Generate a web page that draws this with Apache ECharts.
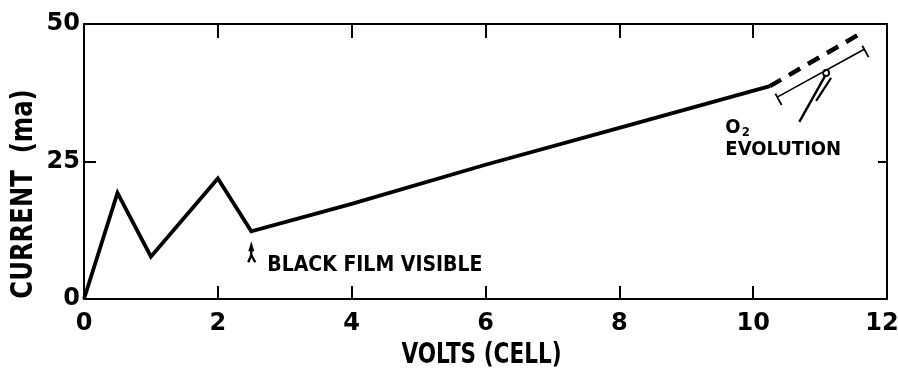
<!DOCTYPE html>
<html>
<head>
<meta charset="utf-8">
<script src="https://cdn.jsdelivr.net/npm/echarts@6/dist/echarts.min.js"></script>
<style>
html,body{margin:0;padding:0;background:#fff;}
#c{width:898px;height:370px;}
</style>
</head>
<body>
<div id="c"></div>
<script>
// ---- data (volts, current mA) ----
const volts = [0, 0.5, 1.0, 2.0, 2.5, 4.0, 6.0, 8.0, 10.25];
const current = [0, 19.3, 7.7, 21.9, 12.3, 17.3, 24.4, 31.1, 38.7];
const dashVolts = [10.25, 11.65];
const dashCurrent = [38.7, 48.6];
// O2 evolution range bar and marker
const o2BarVolts = [10.36, 11.66];
const o2BarCurrent = [36.7, 45.4];
const o2Marker = [11.09, 41.1];
const o2LeaderEnd = [10.69, 32.2];
// annotation anchors
const blackFilmArrow = [2.5, 10.5];
const xTicks = [0, 2, 4, 6, 8, 10, 12];
const yTicks = [0, 25, 50];
const xTitle = 'VOLTS (CELL)';
const yTitle = 'CURRENT  (ma)';
const blackFilmText = 'BLACK FILM VISIBLE';

const zip = (a, b) => a.map((v, i) => [v, b[i]]);
const numFont = "'DejaVu Sans', sans-serif";
const condFont = "'DejaVu Sans Condensed', 'Liberation Sans Narrow', 'DejaVu Sans', sans-serif";

const chart = echarts.init(document.getElementById('c'), null, {renderer: 'canvas'});
const axisLine = {show: true, onZero: false, lineStyle: {color: '#000', width: 2}};
const baseX = {
  type: 'value', min: xTicks[0], max: xTicks[xTicks.length - 1], interval: 2,
  splitLine: {show: false}, axisLine: axisLine
};
const baseY = {
  type: 'value', min: yTicks[0], max: yTicks[yTicks.length - 1], interval: 25,
  splitLine: {show: false}, axisLine: axisLine
};
const lastX = xTicks[xTicks.length - 1];
chart.setOption({
  animation: false,
  backgroundColor: '#fff',
  grid: {left: 84, right: 11, top: 24, bottom: 71, containLabel: false, outerBoundsMode: 'none'},
  xAxis: [
    Object.assign({}, baseX, {
      position: 'bottom',
      axisTick: {inside: true, length: 13, lineStyle: {color: '#000', width: 2}},
      axisLabel: {
        color: '#000', fontFamily: numFont, fontWeight: 'bold', fontSize: 24, margin: 13,
        formatter: v => (v === lastX ? '{last|' + v + '}' : String(v)),
        rich: {last: {color: '#000', fontFamily: numFont, fontWeight: 'bold', fontSize: 24, padding: [0, 10, 0, 0]}}
      }
    }),
    Object.assign({}, baseX, {
      position: 'top',
      axisTick: {inside: true, length: 14, lineStyle: {color: '#000', width: 2}},
      axisLabel: {show: false}
    })
  ],
  yAxis: [
    Object.assign({}, baseY, {
      position: 'left',
      axisTick: {inside: true, length: 12, lineStyle: {color: '#000', width: 2}},
      axisLabel: {color: '#000', fontFamily: numFont, fontWeight: 'bold', fontSize: 24, margin: 4}
    }),
    Object.assign({}, baseY, {
      position: 'right',
      axisTick: {inside: true, length: 9, lineStyle: {color: '#000', width: 2}},
      axisLabel: {show: false}
    })
  ],
  series: [
    {
      name: 'current', type: 'line', data: zip(volts, current),
      showSymbol: false, symbol: 'none',
      lineStyle: {color: '#000', width: 3.8, join: 'miter'}
    },
    {
      name: 'extrapolated', type: 'line', data: zip(dashVolts, dashCurrent),
      showSymbol: false, symbol: 'none',
      lineStyle: {color: '#000', width: 4.5, type: [13, 9]}
    },
    {
      name: 'o2 range', type: 'line', data: zip(o2BarVolts, o2BarCurrent),
      showSymbol: false, symbol: 'none',
      lineStyle: {color: '#000', width: 1.6}
    }
  ]
});

function px(p) { return chart.convertToPixel({gridIndex: 0}, p); }
function addGraphics() {
  const a = px([o2BarVolts[0], o2BarCurrent[0]]);
  const b = px([o2BarVolts[1], o2BarCurrent[1]]);
  const dx = b[0] - a[0], dy = b[1] - a[1];
  const L = Math.hypot(dx, dy);
  const nx = -dy / L, ny = dx / L; // perpendicular
  const capA = 9, capB = 4;
  const m = px(o2Marker);
  const le = px(o2LeaderEnd);
  const ar = px(blackFilmArrow);
  const org = px([xTicks[0], yTicks[0]]);
  const end = px([xTicks[xTicks.length - 1], yTicks[yTicks.length - 1]]);
  const els = [];
  // end caps
  [a, b].forEach(p => {
    els.push({type: 'line', shape: {x1: p[0] - nx * capB, y1: p[1] - ny * capB, x2: p[0] + nx * capA, y2: p[1] + ny * capA},
      style: {stroke: '#000', lineWidth: 1.8}});
  });
  // leader lines (wedge)
  els.push({type: 'polyline', shape: {points: [[m[0] - 1, m[1] + 3], [le[0], le[1]]]}, style: {stroke: '#000', lineWidth: 2.4, fill: null}});
  els.push({type: 'polyline', shape: {points: [[m[0] + 5, m[1] + 5], [m[0] - 10, m[1] + 28]]}, style: {stroke: '#000', lineWidth: 2.2, fill: null}});
  els.push({type: 'circle', shape: {cx: m[0], cy: m[1], r: 3}, style: {stroke: '#000', lineWidth: 1.8, fill: '#fff'}});
  // O2 EVOLUTION label
  els.push({type: 'text', x: le[0] - 74, y: le[1] - 5,
    style: {text: '{o|O}{s|2}', fill: '#000', rich: {
      o: {fontFamily: condFont, fontWeight: 'bold', fontSize: 20, fill: '#000'},
      s: {fontFamily: condFont, fontWeight: 'bold', fontSize: 13, fill: '#000', padding: [9, 0, 0, 1]}
    }}});
  els.push({type: 'text', x: le[0] - 74, y: le[1] + 18,
    style: {text: 'EVOLUTION', fontFamily: condFont, fontWeight: 'bold', fontSize: 20, fill: '#000'}});
  // black film arrow
  const ax = ar[0], ay = ar[1];
  els.push({type: 'polygon', shape: {points: [[ax, ay], [ax - 3, ay + 10], [ax + 3, ay + 10]]}, style: {fill: '#000'}});
  els.push({type: 'polyline', shape: {points: [[ax, ay + 6], [ax, ay + 14], [ax - 3, ay + 21]]}, style: {stroke: '#000', lineWidth: 2.4, fill: null}});
  els.push({type: 'polyline', shape: {points: [[ax, ay + 14], [ax + 4, ay + 21]]}, style: {stroke: '#000', lineWidth: 2.4, fill: null}});
  els.push({type: 'text', x: ax + 16, y: ay + 24,
    style: {text: blackFilmText, fontFamily: condFont, fontWeight: 'bold', fontSize: 21, fill: '#000', verticalAlign: 'middle'}});
  // x axis title
  els.push({type: 'text', x: (org[0] + end[0]) / 2 - 4, y: org[1] + 57, scaleY: 1.2,
    style: {text: xTitle, fontFamily: condFont, fontWeight: 'bold', fontSize: 24, fill: '#000', align: 'center', verticalAlign: 'middle'}});
  // y axis title
  els.push({type: 'text', x: 24, y: 194, rotation: Math.PI / 2, scaleY: 1.1,
    style: {text: yTitle, fontFamily: condFont, fontWeight: 'bold', fontSize: 27, fill: '#000', align: 'center', verticalAlign: 'middle'}});
  chart.setOption({graphic: els});
}
addGraphics();
</script>
</body>
</html>
